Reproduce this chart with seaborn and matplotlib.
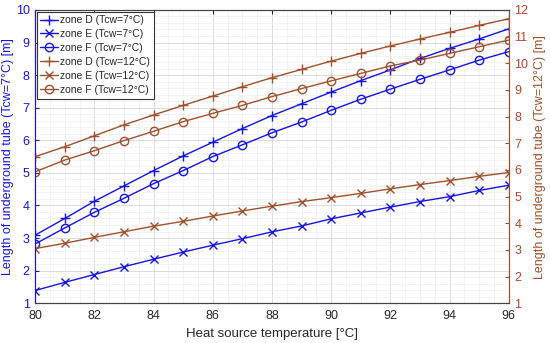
import matplotlib
matplotlib.use("Agg")
import matplotlib.pyplot as plt
import seaborn as sns
import pandas as pd
from matplotlib.ticker import MultipleLocator

temps = list(range(80, 97))
zone_d_7 = [3.09, 3.60, 4.13, 4.60, 5.07, 5.52, 5.94, 6.36, 6.76, 7.12, 7.48, 7.83, 8.16, 8.51, 8.82, 9.11, 9.42]
zone_e_7 = [1.39, 1.64, 1.88, 2.12, 2.35, 2.57, 2.78, 2.98, 3.19, 3.37, 3.59, 3.77, 3.95, 4.12, 4.27, 4.46, 4.62]
zone_f_7 = [2.82, 3.31, 3.79, 4.22, 4.67, 5.07, 5.50, 5.86, 6.23, 6.56, 6.92, 7.26, 7.57, 7.87, 8.16, 8.46, 8.72]
zone_d_12 = [6.50, 6.87, 7.28, 7.69, 8.06, 8.42, 8.77, 9.12, 9.46, 9.77, 10.08, 10.37, 10.65, 10.91, 11.16, 11.42, 11.67]
zone_e_12 = [3.05, 3.25, 3.47, 3.68, 3.89, 4.07, 4.27, 4.46, 4.64, 4.81, 4.96, 5.12, 5.29, 5.45, 5.60, 5.76, 5.90]
zone_f_12 = [5.93, 6.37, 6.72, 7.10, 7.45, 7.81, 8.12, 8.42, 8.75, 9.05, 9.34, 9.62, 9.90, 10.12, 10.37, 10.62, 10.87]

labels_7 = ["zone D (Tcw=7°C)", "zone E (Tcw=7°C)", "zone F (Tcw=7°C)"]
labels_12 = ["zone D (Tcw=12°C)", "zone E (Tcw=12°C)", "zone F (Tcw=12°C)"]
markers = ["+", "x", "o"]
msizes = {"+": 7, "x": 5.5, "o": 6}

blue = "#1414E6"
brown = "#A0502A"
rtick = "#B8442C"

sns.set_style("white")
plt.rcParams["font.family"] = ["Liberation Sans", "DejaVu Sans"]

fig = plt.figure(figsize=(5.5, 3.43), dpi=100)
ax1 = fig.add_axes([0.064, 0.116, 0.861, 0.855])
ax2 = ax1.twinx()

for ax, series, labels, col in [
    (ax1, [zone_d_7, zone_e_7, zone_f_7], labels_7, blue),
    (ax2, [zone_d_12, zone_e_12, zone_f_12], labels_12, brown),
]:
    for vals, lab, mk in zip(series, labels, markers):
        df = pd.DataFrame({"T": temps, "L": vals})
        sns.lineplot(data=df, x="T", y="L", ax=ax, color=col, marker=mk,
                     markersize=msizes[mk],
                     markeredgecolor=col, markerfacecolor="none",
                     markeredgewidth=1.0, linewidth=1.0, label=lab)

for ax in (ax1, ax2):
    if ax.get_legend() is not None:
        ax.get_legend().remove()

ax1.set_xlim(80, 96)
ax1.set_ylim(1, 10)
ax2.set_ylim(1, 12)
ax1.xaxis.set_major_locator(MultipleLocator(2))
ax1.xaxis.set_minor_locator(MultipleLocator(0.5))
ax1.yaxis.set_major_locator(MultipleLocator(1))
ax1.yaxis.set_minor_locator(MultipleLocator(0.2))
ax2.yaxis.set_major_locator(MultipleLocator(1))

ax1.grid(which="major", color="#d6d6d6", linewidth=0.6)
ax1.grid(which="minor", color="#eeeeee", linewidth=0.5)
ax1.set_axisbelow(True)

ax1.set_xlabel("Heat source temperature [°C]", fontsize=9.5, labelpad=4)
ax1.set_ylabel("Length of underground tube (Tcw=7°C) [m]", fontsize=9, color=blue)
ax1.yaxis.set_label_coords(-0.044, 0.5)
ax2.set_ylabel("Length of underground tube (Tcw=12°C) [m]", fontsize=9, color=brown, labelpad=4)

ax1.tick_params(axis="x", which="major", direction="in", length=3, top=True, labelsize=9, pad=5, colors="#262626")
ax1.tick_params(axis="x", which="minor", length=0)
ax1.tick_params(axis="y", which="major", direction="in", length=3, labelsize=9, colors=blue, pad=4)
ax1.tick_params(axis="y", which="minor", length=0)
ax2.tick_params(axis="y", which="major", direction="in", length=3, labelsize=9, colors=rtick, pad=4)

for ax in (ax1, ax2):
    ax.spines["top"].set_color("#444444")
    ax.spines["bottom"].set_color("#444444")
    ax.spines["left"].set_color(blue)
    ax.spines["right"].set_color(brown)
    for s in ax.spines.values():
        s.set_linewidth(0.8)

h1, l1 = ax1.get_legend_handles_labels()
h2, l2 = ax2.get_legend_handles_labels()
leg = ax2.legend(h1 + h2, l1 + l2, loc="upper left", fontsize=7.5, frameon=True,
                 fancybox=False, edgecolor="#333333", framealpha=1,
                 borderpad=0.35, labelspacing=0.38, handlelength=1.7,
                 handletextpad=0.2, borderaxespad=0.15)
leg.get_frame().set_linewidth(0.8)

fig.savefig("out.png", dpi=100)
